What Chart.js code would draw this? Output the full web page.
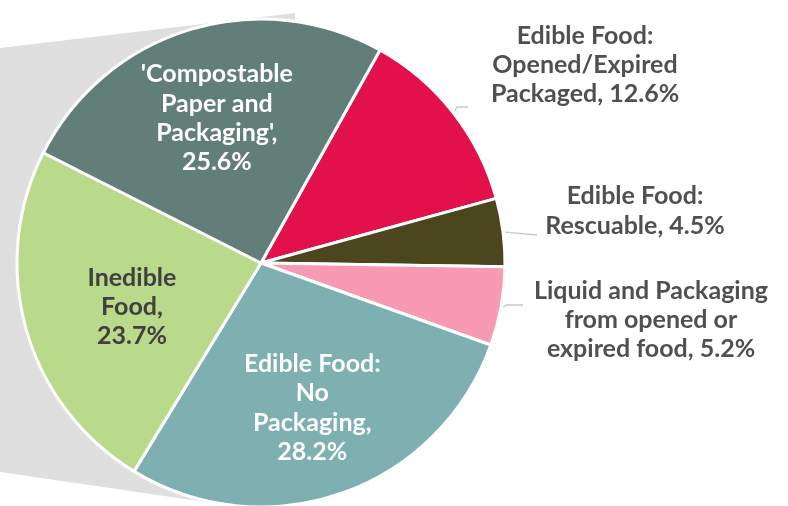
<!DOCTYPE html>
<html>
<head>
<meta charset="utf-8">
<script src="https://cdn.jsdelivr.net/npm/chart.js@4"></script>
<style>
  html, body { margin: 0; padding: 0; background: #fff; overflow: hidden; }
  #wrap { width: 788px; height: 510px; position: relative; }
</style>
</head>
<body>
<div id="wrap"><canvas id="chart"></canvas></div>
<script>
// data, clockwise from the top-right slice
const categories = [
  "Edible Food: Opened/Expired Packaged",
  "Edible Food: Rescuable",
  "Liquid and Packaging from opened or expired food",
  "Edible Food: No Packaging",
  "Inedible Food",
  "'Compostable Paper and Packaging'"
];
const shares = [12.6, 4.5, 5.2, 28.2, 23.7, 25.6];
const labelLines = [
  ["Edible Food:", "Opened/Expired", "Packaged,"],
  ["Edible Food:", "Rescuable,"],
  ["Liquid and Packaging", "from opened or", "expired food,"],
  ["Edible Food:", "No", "Packaging,"],
  ["Inedible", "Food,"],
  ["'Compostable", "Paper and", "Packaging',"]
];
const colors = ["#E2104B", "#4B461E", "#F89AB4", "#7EB0B1", "#B9D98B", "#627E78"];

// where each label goes: inside at a fraction of the radius, or outside at a point
const placement = [
  { x: 585, y: 65, color: "#505050", leader: [[457, 107], [468, 107]] },
  { x: 635, y: 211, color: "#505050", leader: [[537, 235]] },
  { x: 651, y: 320, color: "#505050", leader: [[507, 305], [523, 305]] },
  { r: 0.63, dy: 0, color: "#ffffff", ownLine: true },
  { r: 0.55, dy: 7, color: "#404040", ownLine: true },
  { r: 0.62, dy: 0, color: "#ffffff", ownLine: true }
];

const FONT = "bold 25px Lato";
const LINE_H = 29.3;

// grey connector band behind the pie
const bandPlugin = {
  id: "band",
  beforeDatasetsDraw(chart) {
    const ctx = chart.ctx;
    ctx.save();
    ctx.fillStyle = "#DFDFDF";
    ctx.beginPath();
    ctx.moveTo(0, 48);
    ctx.lineTo(295, 13);
    ctx.lineTo(295, 515);
    ctx.lineTo(0, 472);
    ctx.closePath();
    ctx.fill();
    ctx.restore();
  }
};

const labelPlugin = {
  id: "labels",
  afterDatasetsDraw(chart) {
    const ctx = chart.ctx;
    const arcs = chart.getDatasetMeta(0).data;
    ctx.save();
    ctx.font = FONT;
    ctx.textAlign = "center";
    ctx.textBaseline = "middle";
    arcs.forEach((arc, i) => {
      const p = placement[i];
      const mid = (arc.startAngle + arc.endAngle) / 2;
      const lines = labelLines[i].slice();
      const pct = shares[i].toFixed(1) + "%";
      if (p.ownLine) lines.push(pct);
      else lines[lines.length - 1] += " " + pct;
      let cx, cy;
      if (p.r !== undefined) {
        cx = arc.x + Math.cos(mid) * arc.outerRadius * p.r;
        cy = arc.y + Math.sin(mid) * arc.outerRadius * p.r + p.dy;
      } else {
        cx = p.x;
        cy = p.y;
        // leader line from the slice edge
        ctx.strokeStyle = "#C8C8C8";
        ctx.lineWidth = 1.3;
        ctx.beginPath();
        ctx.moveTo(arc.x + Math.cos(mid) * (arc.outerRadius + 2), arc.y + Math.sin(mid) * (arc.outerRadius + 2));
        p.leader.forEach(pt => ctx.lineTo(pt[0], pt[1]));
        ctx.stroke();
      }
      ctx.fillStyle = p.color;
      const top = cy - (lines.length - 1) * LINE_H / 2;
      lines.forEach((t, k) => ctx.fillText(t, cx, top + k * LINE_H));
    });
    ctx.restore();
  }
};

new Chart(document.getElementById("chart"), {
  type: "pie",
  data: {
    labels: categories,
    datasets: [{
      data: shares,
      backgroundColor: colors,
      borderColor: "#ffffff",
      borderWidth: 3
    }]
  },
  options: {
    responsive: true,
    maintainAspectRatio: false,
    animation: false,
    rotation: 29.2,
    radius: 244,
    layout: { padding: { top: 18, bottom: 2, left: 16, right: 282 } },
    plugins: {
      legend: { display: false },
      tooltip: { enabled: false }
    }
  },
  plugins: [bandPlugin, labelPlugin]
});
</script>
</body>
</html>
